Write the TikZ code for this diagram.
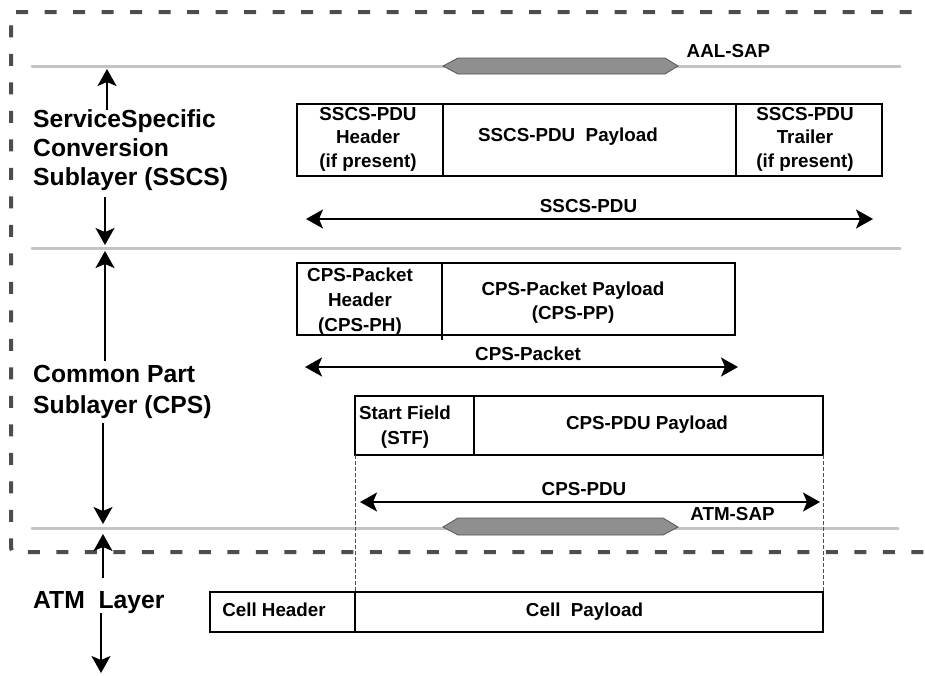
\documentclass[tikz,border=0pt]{standalone}
\usepackage{fontspec}
\setmainfont{Liberation Sans}
\usetikzlibrary{arrows.meta}
\definecolor{bordergray}{HTML}{4D4D4D}
\definecolor{sepgray}{HTML}{C4C4C4}
\definecolor{sapfill}{HTML}{8F8F8F}
\definecolor{sapdraw}{HTML}{555555}
\begin{document}
\begin{tikzpicture}[x=1pt,y=-1pt,
  big/.style={font=\fontsize{24.7}{29}\selectfont\bfseries, inner sep=0pt, align=left},
  small/.style={font=\fontsize{18.8}{23.5}\selectfont\bfseries, inner sep=0pt, align=center},
  cellbox/.style={draw=black, line width=1.8pt, anchor=north west, inner sep=0pt, outer sep=0pt},
  sepline/.style={draw=sepgray, line width=3pt, line cap=round},
  tip/.tip={Stealth[length=17pt,width=19pt,inset=4pt]},
  dbl/.style={line width=1.8pt, tip-tip},
  arr/.style={line width=1.8pt, -tip},
  sap/.style={draw=sapdraw, fill=sapfill, line width=0.8pt},
  guide/.style={draw=bordergray, line width=0.7pt, dash pattern=on 4pt off 2pt},
  frame/.style={draw=bordergray, line width=4pt, dash pattern=on 12pt off 16.5pt, rounded corners=4pt}
]
\useasboundingbox (0,0) rectangle (925,675);

% dashed AAL frame
\draw[frame] (940,12) -- (11,12) -- (11,552) -- (940,552);

% layer separators
\draw[sepline] (32,66) -- (900,66);
\draw[sepline] (32,248) -- (900,248);
\draw[sepline] (32,528) -- (898,528);

% SAP shapes
\draw[sap] (443,66) -- (458,58) -- (665,58) -- (678,66) -- (665,74) -- (458,74) -- cycle;
\draw[sap] (443,527) -- (458,518) -- (663,518) -- (678,527) -- (663,535) -- (458,535) -- cycle;
\node[small, anchor=base] (aalsap) at (728.5,57) {AAL-SAP};
\node[small, anchor=base] (atmsap) at (732.5,520) {ATM-SAP};

% left labels
\node[big, anchor=west] (sscs) at (33,150) {ServiceSpecific\\Conversion\\Sublayer (SSCS)};
\node[big, anchor=west, font=\fontsize{24.7}{31.5}\selectfont\bfseries] (cps) at (33,392) {Common Part\\Sublayer (CPS)};
\node[big, anchor=base west] (atm) at (33,608) {ATM~ Layer};

\coordinate (a1s) at (107,110); \coordinate (a1e) at (107,69);
\coordinate (a2s) at (105,197); \coordinate (a2e) at (105,245);
\coordinate (a3s) at (105,361); \coordinate (a3e) at (105,251);
\coordinate (a4s) at (103,423); \coordinate (a4e) at (103,524);
\coordinate (a5s) at (103,578); \coordinate (a5e) at (103,534);
\coordinate (a6s) at (101,613); \coordinate (a6e) at (101,673);
\draw[arr] (a1s) -- (a1e);
\draw[arr] (a2s) -- (a2e);
\draw[arr] (a3s) -- (a3e);
\draw[arr] (a4s) -- (a4e);
\draw[arr] (a5s) -- (a5e);
\draw[arr] (a6s) -- (a6e);

% SSCS-PDU
\node[cellbox, minimum width=146pt, minimum height=72pt] (sh) at (297,104) {};
\node[cellbox, minimum width=293pt, minimum height=72pt] (sp) at (443,104) {};
\node[cellbox, minimum width=146pt, minimum height=72pt] (st) at (736,104) {};
\node[small] (sht) at (368,139) {SSCS-PDU\\Header\\(if present)};
\node[small] (spt) at (568,137) {SSCS-PDU~ Payload};
\node[small] (stt) at (805,139) {SSCS-PDU\\Trailer\\(if present)};
\coordinate (s1) at (306,219); \coordinate (s2) at (873,219);
\draw[dbl] (s1) -- (s2);
\node[small, anchor=base] (sl) at (588.5,212) {SSCS-PDU};

% CPS-Packet
\node[cellbox, minimum width=145pt, minimum height=72pt] (cph) at (297,263) {};
\node[cellbox, minimum width=293pt, minimum height=72pt] (cpp) at (442,263) {};
\draw[line width=1.8pt] (cph.south east) -- ++(0,5);
\node[small, font=\fontsize{18.8}{25}\selectfont\bfseries] (cpht) at (360,302) {CPS-Packet\\Header\\(CPS-PH)};
\node[small, font=\fontsize{18.8}{24}\selectfont\bfseries] (cppt) at (573,303) {CPS-Packet Payload\\(CPS-PP)};
\coordinate (c1) at (305,367); \coordinate (c2) at (738,367);
\draw[dbl] (c1) -- (c2);
\node[small, anchor=base] (cl) at (528,360) {CPS-Packet};

% CPS-PDU
\node[cellbox, minimum width=119pt, minimum height=59pt] (stf) at (355,396) {};
\node[cellbox, minimum width=349pt, minimum height=59pt] (ppay) at (474,396) {};
\node[small, font=\fontsize{18.8}{25}\selectfont\bfseries] (stft) at (405,427) {Start Field\\(STF)};
\node[small] (ppayt) at (647,425) {CPS-PDU Payload};
\coordinate (p1) at (360,502); \coordinate (p2) at (820,502);
\draw[dbl] (p1) -- (p2);
\node[small, anchor=base] (pl) at (584,495) {CPS-PDU};

% ATM cell
\node[cellbox, line width=1.2pt, minimum width=145pt, minimum height=40pt] (ch) at (210,592) {};
\node[cellbox, line width=1.2pt, minimum width=468pt, minimum height=40pt] (cpay) at (355,592) {};
\node[small, anchor=base] (cht) at (274,616) {Cell Header};
\node[small, anchor=base] (cpayt) at (584.5,616) {Cell~ Payload};

% guides
\draw[guide] (stf.south west) -- (cpay.north west);
\draw[guide] (ppay.south east) -- (cpay.north east);
\end{tikzpicture}
\end{document}
